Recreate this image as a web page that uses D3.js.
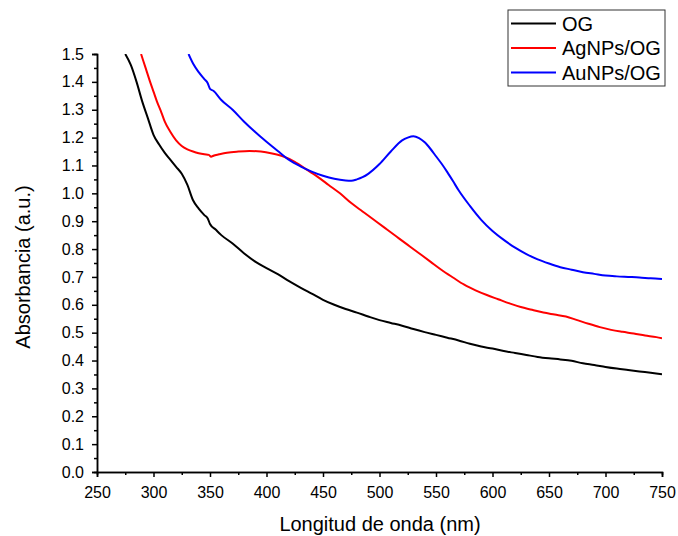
<!DOCTYPE html>
<html>
<head>
<meta charset="utf-8">
<script src="https://cdn.jsdelivr.net/npm/d3@7"></script>
<style>
  body { margin: 0; background: #fff; }
  text { font-family: "Liberation Sans", Arial, sans-serif; fill: #000; }
</style>
</head>
<body>
<div id="chart"></div>
<script>
// spectra: [wavelength nm, absorbance]
const og = [[275,1.50],[280,1.46],[285,1.40],[290,1.33],[295,1.27],[300,1.21],[305,1.175],[310,1.145],[315,1.12],
  [320,1.095],[325,1.07],[330,1.03],[335,0.975],[340,0.945],[345,0.922],[348,0.91],[350,0.89],[355,0.87],[360,0.85],
  [370,0.82],[380,0.785],[390,0.755],[400,0.732],[410,0.71],[420,0.685],[430,0.662],[440,0.64],[450,0.618],
  [460,0.60],[470,0.585],[480,0.572],[490,0.558],[500,0.545],[510,0.535],[520,0.525],[530,0.513],[540,0.502],
  [550,0.492],[560,0.482],[570,0.472],[580,0.46],[590,0.45],[600,0.443],[610,0.434],[620,0.427],[630,0.42],
  [640,0.413],[650,0.408],[660,0.404],[670,0.399],[680,0.39],[690,0.384],[700,0.377],[710,0.371],[720,0.366],
  [730,0.361],[740,0.356],[750,0.351]];
const agnps = [[289,1.50],[293,1.45],[297,1.40],[300,1.365],[303,1.33],[307,1.29],[310,1.257],[315,1.22],[320,1.19],
  [325,1.17],[330,1.158],[335,1.15],[340,1.144],[345,1.14],[349,1.138],[351,1.131],[353,1.135],[358,1.14],
  [365,1.146],[375,1.15],[385,1.152],[395,1.15],[405,1.143],[415,1.132],[425,1.113],[435,1.087],[445,1.06],
  [455,1.03],[465,1.0],[475,0.965],[485,0.935],[495,0.905],[505,0.875],[515,0.845],[525,0.815],[535,0.785],
  [545,0.755],[555,0.725],[565,0.698],[575,0.672],[585,0.652],[595,0.635],[605,0.62],[615,0.605],[625,0.592],
  [635,0.582],[645,0.572],[655,0.565],[665,0.558],[675,0.545],[685,0.532],[695,0.52],[705,0.51],[715,0.503],
  [725,0.497],[735,0.49],[745,0.484],[750,0.48]];
const aunps = [[331,1.50],[335,1.466],[340,1.435],[345,1.41],[348,1.395],[350,1.375],[353,1.368],[360,1.335],
  [370,1.30],[380,1.258],[390,1.22],[400,1.185],[410,1.152],[420,1.12],[430,1.097],[440,1.078],[450,1.063],
  [460,1.052],[470,1.046],[475,1.045],[480,1.05],[485,1.058],[490,1.07],[500,1.105],[510,1.15],[520,1.19],
  [525,1.2],[530,1.205],[535,1.198],[540,1.183],[545,1.16],[550,1.133],[555,1.106],[560,1.076],[565,1.044],
  [570,1.011],[580,0.955],[590,0.905],[600,0.865],[610,0.833],[620,0.805],[630,0.782],[640,0.763],[650,0.748],
  [660,0.735],[670,0.726],[680,0.717],[690,0.711],[700,0.705],[710,0.702],[720,0.700],[730,0.698],[740,0.695],
  [750,0.693]];

const names = ['OG', 'AgNPs/OG', 'AuNPs/OG'];
const colors = ['#000000', '#ff0000', '#0000ff'];
const xTicks = [250, 300, 350, 400, 450, 500, 550, 600, 650, 700, 750];
const yTicks = [0, 0.1, 0.2, 0.3, 0.4, 0.5, 0.6, 0.7, 0.8, 0.9, 1.0, 1.1, 1.2, 1.3, 1.4, 1.5];

const W = 678, H = 536;
const m = {left: 97, right: 16, top: 54, bottom: 64};

const svg = d3.select('#chart').append('svg')
  .attr('width', W).attr('height', H);

const x = d3.scaleLinear().domain([250, 750]).range([m.left, W - m.right]);
const y = d3.scaleLinear().domain([0, 1.5]).range([H - m.bottom, m.top]);

svg.append('clipPath').attr('id', 'clip')
  .append('rect')
  .attr('x', m.left).attr('y', m.top)
  .attr('width', W - m.left - m.right).attr('height', H - m.top - m.bottom);

const line = d3.line()
  .curve(d3.curveMonotoneX)
  .x(d => x(d[0])).y(d => y(d[1]));

[og, agnps, aunps].forEach((s, i) => {
  svg.append('path')
    .datum(s)
    .attr('clip-path', 'url(#clip)')
    .attr('fill', 'none')
    .attr('stroke', colors[i])
    .attr('stroke-width', 2)
    .attr('stroke-linejoin', 'round')
    .attr('d', line);
});

// minor ticks first
const xMinor = d3.range(275, 750, 50);
const yMinor = d3.range(0.05, 1.5, 0.1);

const gx = svg.append('g').attr('transform', `translate(0,${H - m.bottom})`);
gx.call(d3.axisBottom(x).tickValues(xMinor).tickSize(3).tickFormat(''));
gx.append('g').call(d3.axisBottom(x).tickValues(xTicks).tickSize(5).tickPadding(10).tickFormat(d3.format('d')));

const gy = svg.append('g').attr('transform', `translate(${m.left},0)`);
gy.call(d3.axisLeft(y).tickValues(yMinor).tickSize(3).tickFormat(''));
gy.append('g').call(d3.axisLeft(y).tickValues(yTicks).tickSize(5).tickPadding(8).tickFormat(d3.format('.1f')));

svg.selectAll('.domain, .tick line').attr('stroke', '#000').attr('stroke-width', 1.5);
svg.selectAll('.tick text').attr('font-size', 16).attr('fill', '#000')
  .style('font-family', '"Liberation Sans", Arial, sans-serif');

svg.append('text')
  .attr('x', 380)
  .attr('y', 531)
  .attr('text-anchor', 'middle')
  .attr('font-size', 20)
  .text('Longitud de onda (nm)');

svg.append('text')
  .attr('transform', 'translate(30,267) rotate(-90)')
  .attr('text-anchor', 'middle')
  .attr('font-size', 20)
  .text('Absorbancia (a.u.)');

// legend
const lg = svg.append('g').attr('transform', 'translate(508,10)');
lg.append('rect')
  .attr('width', 157).attr('height', 76)
  .attr('fill', '#fff').attr('stroke', '#333').attr('stroke-width', 1);
names.forEach((n, i) => {
  const ly = 13.5 + i * 24.5;
  lg.append('line')
    .attr('x1', 3).attr('x2', 48)
    .attr('y1', ly).attr('y2', ly)
    .attr('stroke', colors[i]).attr('stroke-width', 2);
  lg.append('text')
    .attr('x', 54).attr('y', ly + 7)
    .attr('font-size', 20)
    .text(n);
});
</script>
</body>
</html>
